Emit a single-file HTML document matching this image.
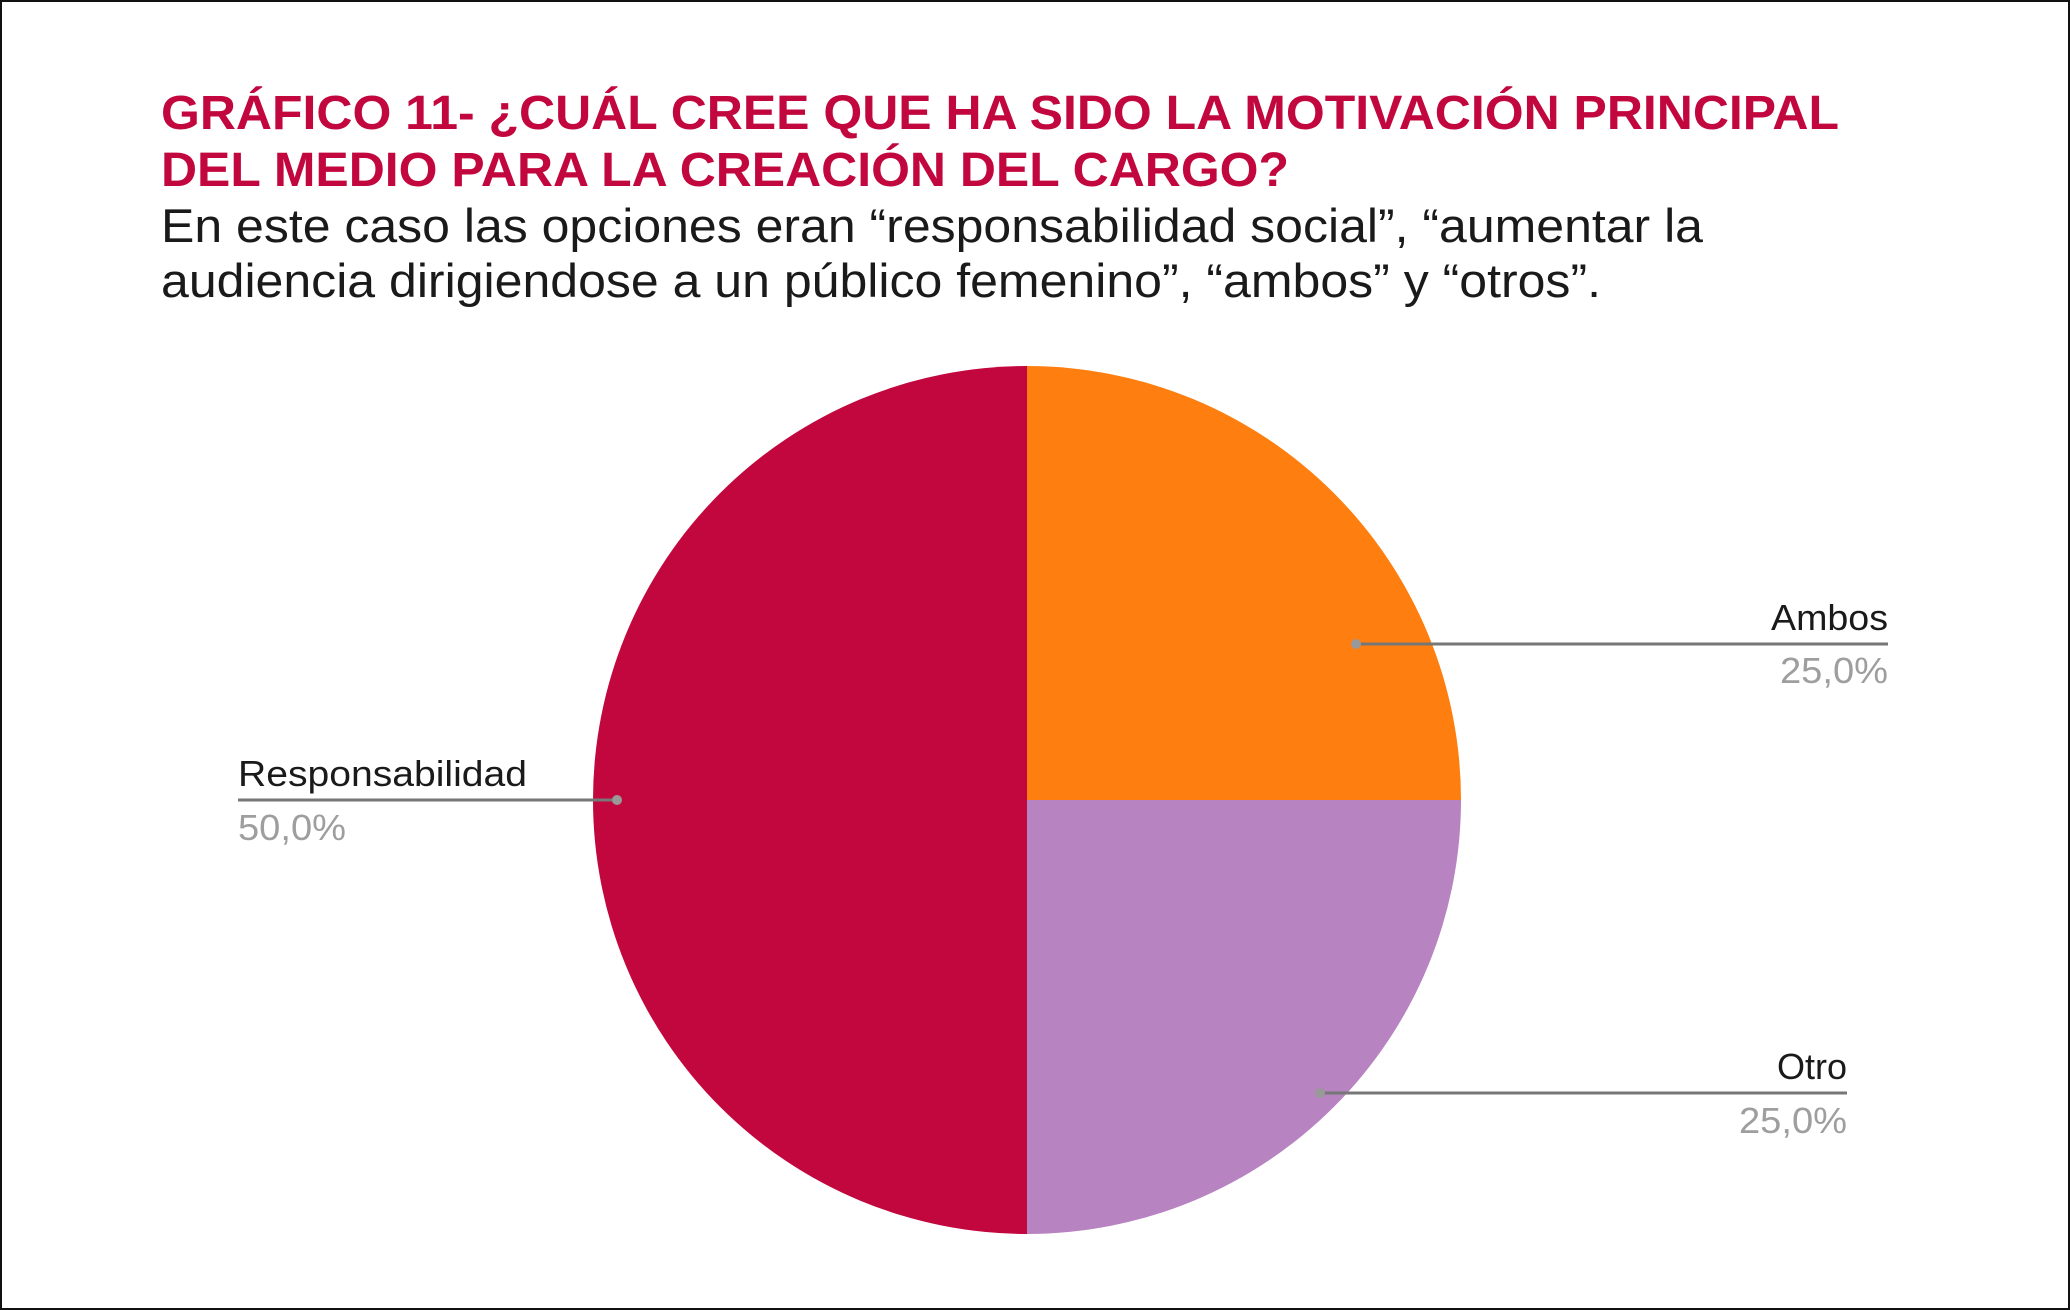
<!DOCTYPE html>
<html><head><meta charset="utf-8"><style>
html,body{margin:0;padding:0;background:#fff}
svg{display:block}
</style></head><body>
<svg width="2070" height="1310" viewBox="0 0 2070 1310" xmlns="http://www.w3.org/2000/svg" font-family="'Liberation Sans', Arial, sans-serif">
<rect x="1" y="1" width="2068" height="1308" fill="#fff" stroke="#111" stroke-width="2"/>
<text x="161" y="129" font-size="48" font-weight="bold" fill="#c2073f" textLength="1678" lengthAdjust="spacingAndGlyphs">GRÁFICO 11- ¿CUÁL CREE QUE HA SIDO LA MOTIVACIÓN PRINCIPAL</text>
<text x="161" y="186" font-size="48" font-weight="bold" fill="#c2073f" textLength="1128" lengthAdjust="spacingAndGlyphs">DEL MEDIO PARA LA CREACIÓN DEL CARGO?</text>
<text x="161" y="242" font-size="47" fill="#1a1a1a" textLength="1542" lengthAdjust="spacingAndGlyphs">En este caso las opciones eran “responsabilidad social”, “aumentar la</text>
<text x="161" y="297" font-size="47" fill="#1a1a1a" textLength="1440" lengthAdjust="spacingAndGlyphs">audiencia dirigiendose a un público femenino”, “ambos” y “otros”.</text>
<path d="M1027,800 L1027,366 A434,434 0 0 1 1461,800 Z" fill="#fe7f0f"/>
<path d="M1027,800 L1461,800 A434,434 0 0 1 1027,1234 Z" fill="#b783c1"/>
<path d="M1027,800 L1027,1234 A434,434 0 0 1 1027,366 Z" fill="#c2073f"/>
<line x1="1356" y1="644" x2="1888" y2="644" stroke="#777" stroke-width="3"/>
<circle cx="1356" cy="644" r="5" fill="#999"/>
<text x="1888" y="630" font-size="36" fill="#1a1a1a" text-anchor="end" textLength="117" lengthAdjust="spacingAndGlyphs">Ambos</text>
<text x="1888" y="683" font-size="36" fill="#9e9e9e" text-anchor="end" textLength="108" lengthAdjust="spacingAndGlyphs">25,0%</text>
<line x1="1320" y1="1093" x2="1847" y2="1093" stroke="#777" stroke-width="3"/>
<circle cx="1320" cy="1093" r="5" fill="#999"/>
<text x="1847" y="1079" font-size="36" fill="#1a1a1a" text-anchor="end" textLength="70" lengthAdjust="spacingAndGlyphs">Otro</text>
<text x="1847" y="1133" font-size="36" fill="#9e9e9e" text-anchor="end" textLength="108" lengthAdjust="spacingAndGlyphs">25,0%</text>
<line x1="238" y1="800" x2="617" y2="800" stroke="#777" stroke-width="3"/>
<circle cx="617" cy="800" r="5" fill="#999"/>
<text x="238" y="786" font-size="36" fill="#1a1a1a" textLength="289" lengthAdjust="spacingAndGlyphs">Responsabilidad</text>
<text x="238" y="840" font-size="36" fill="#9e9e9e" textLength="108" lengthAdjust="spacingAndGlyphs">50,0%</text>
</svg>
</body></html>
